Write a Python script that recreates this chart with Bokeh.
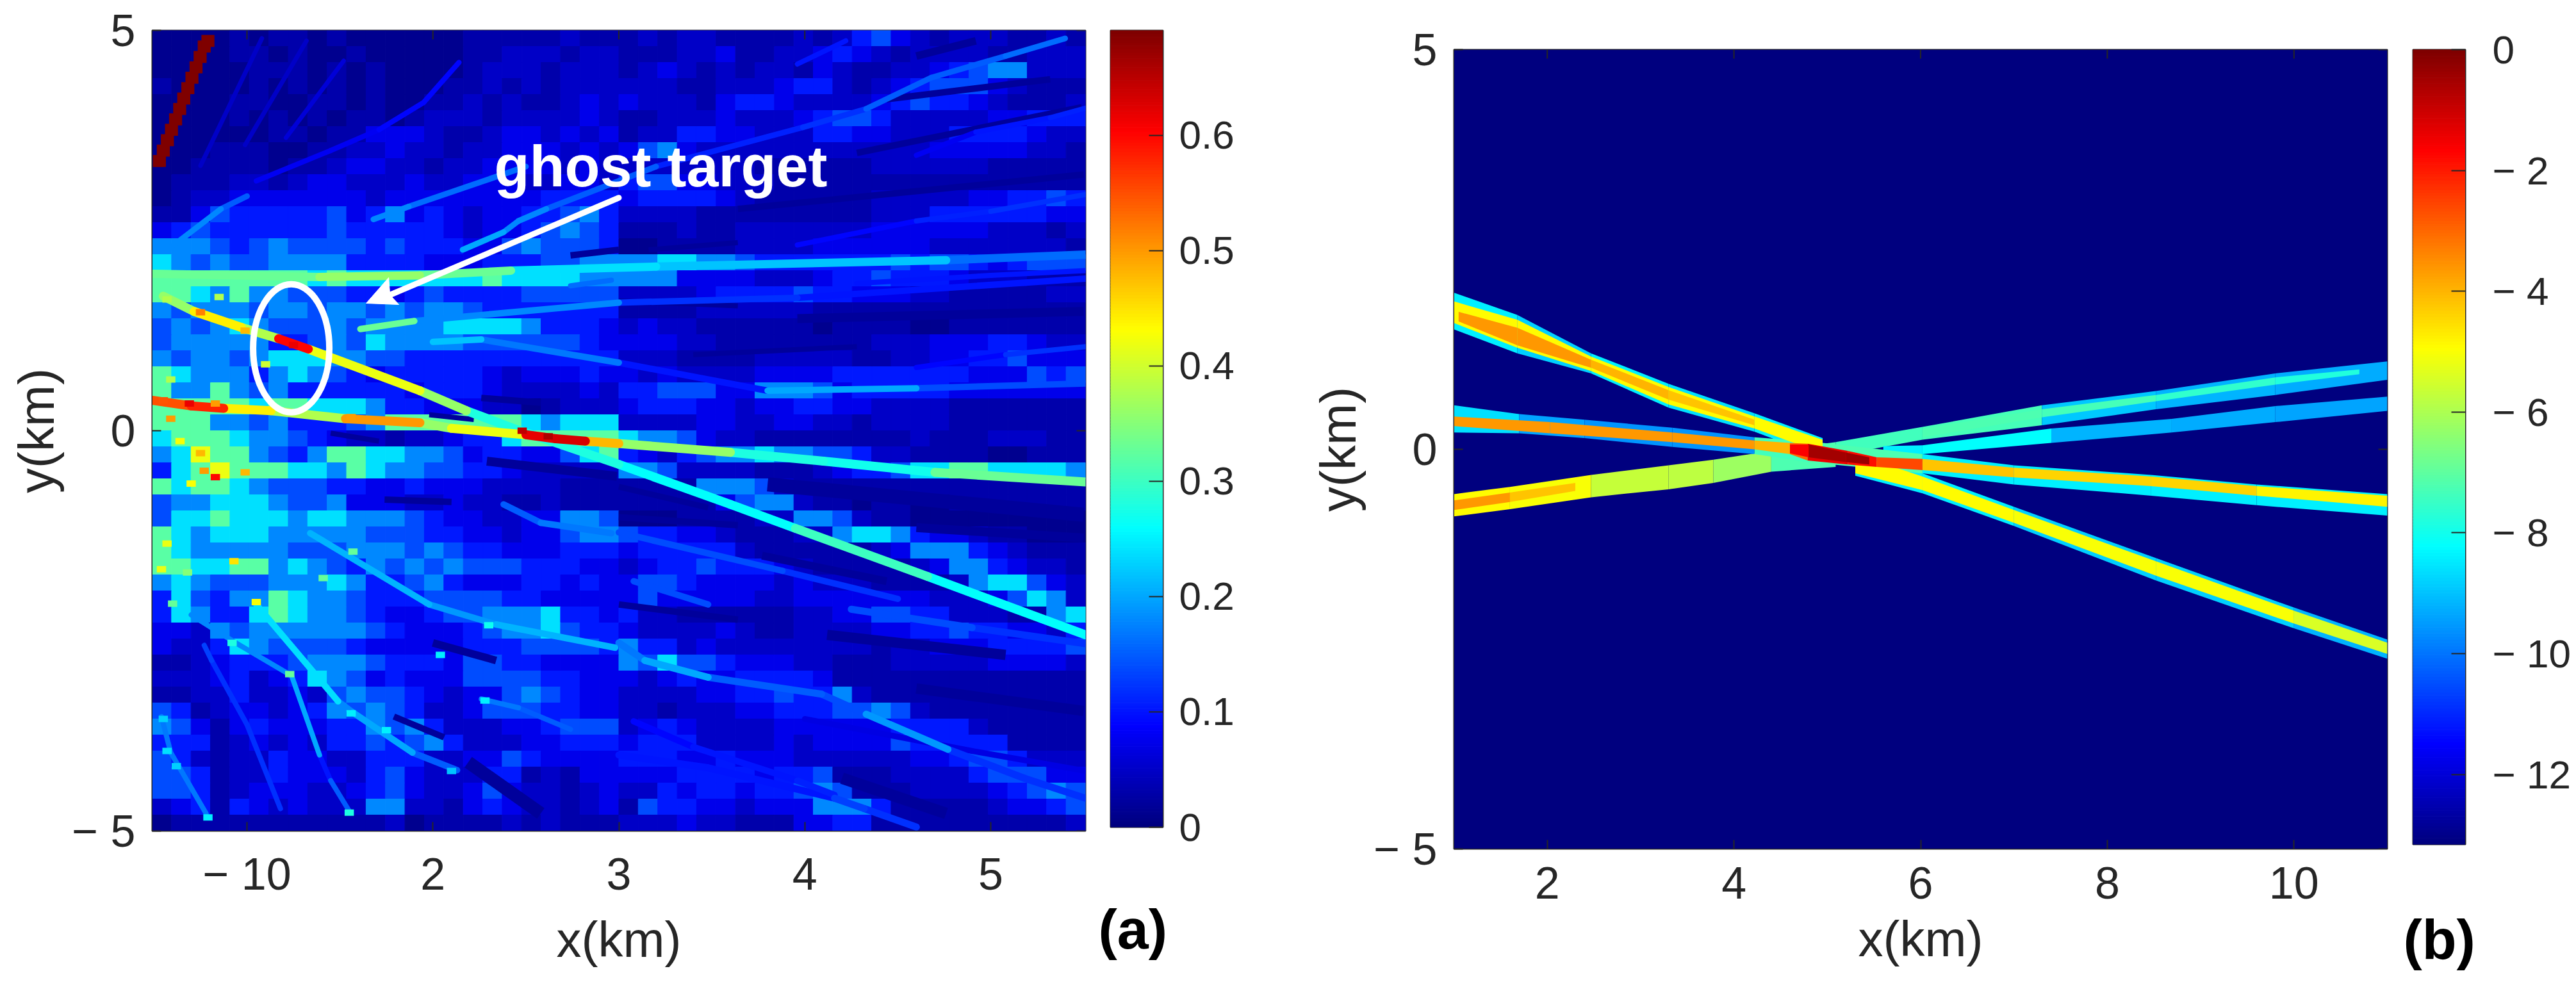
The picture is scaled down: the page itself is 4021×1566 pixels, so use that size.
from bokeh.plotting import figure
from bokeh.models import (ColumnDataSource, LinearColorMapper, FixedTicker)
from bokeh.core.properties import value
from bokeh.embed import file_html
from bokeh.resources import INLINE
import numpy as np

# ---------- colour scale limits and tick labels ----------
A_VMIN, A_VMAX = 0.0, 0.691
B_VMIN, B_VMAX = -13.16, 0.0
a_cb_ticks = [0, 0.1, 0.2, 0.3, 0.4, 0.5, 0.6]
a_cb_labels = ["0", "0.1", "0.2", "0.3", "0.4", "0.5", "0.6"]
b_cb_ticks = [0, -2, -4, -6, -8, -10, -12]
b_cb_labels = ["0", "\u2212 2", "\u2212 4", "\u2212 6", "\u2212 8", "\u2212 10", "\u2212 12"]
a_x_ticks = [1, 2, 3, 4, 5]
a_x_labels = ["\u2212 10", "2", "3", "4", "5"]
b_x_ticks = [2, 4, 6, 8, 10]
y_ticks = [-5, 0, 5]
y_labels = ["\u2212 5", "0", "5"]

# ---------- panel (a): estimated levels, coarse mosaic ----------
# one digit per block; digit_level turns the digit into a value on the colour bar
digit_level = [0.012, 0.03, 0.05, 0.075, 0.105, 0.14, 0.18, 0.24, 0.32, 0.42]
mosaic_left = [
    "000010110100000011111211", "000011010010000011222122", "000001110101000012221222", "100001010101000112121222",
    "000011001101001121211232", "000010101011012221222232", "000000110113332112332323", "000111001122322122333232",
    "001111011233221223333232", "011122123322232233322332", "012233333332333333334444", "113544444534634323344564",
    "345444444544444323345654", "666545655554544433565554", "765655666644443334445566", "888888887877777778777766",
    "887686655544345444455555", "656665665665656654444444", "565676555656666777764443", "566666445657666655555543",
    "656656777665544444444444", "876664676543444443233343", "866865644444434443222232", "888887887776443332201222",
    "888665644456888888876777",
    "788876654322122344788888", "679886546887766534433578", "478988877687665544322222", "878876555443343332222111",
    "566777655633322322112111", "577877767766654332233665", "876777666665554433233566", "876666655566656544333444",
    "887788676546565655544433", "676555666764456433344343", "475466876654445555443333", "476447876654334556667443",
    "332656666665433345667544", "322476555543333344455554", "112344456665444355443333", "222342347653433355554433",
    "112242232565543233565433", "541233234656542235554433", "653134333446564222334555", "444123232445456422233444",
    "542122433224442233543333", "554122433324532224412133", "554123332234532235322123", "234143232226622134322123",
    "011111111111201111212111",
]
mosaic_right = [
    "121221111212453212221121", "111223112234321222211222", "123212122132112234566222", "222112223442123455532111",
    "322213443222234544321112", "112223222345542222233444", "122443322244332224444322", "356322222222222233333221",
    "222222211111122222211111", "455332221111111111111111", "344443211111122222334454", "222211111111122244444433",
    "111211222222233333322212", "001111222233333322222221", "667766544444445455434555", "666333322234454443222111",
    "222234444544333221111122", "111122222211111111111111", "232211111101111001111111", "333221111111122233344322",
    "222111122222112233445333", "323222233334444444333545", "445553366653444443333333", "344433233443322221111111",
    "222233223322122221111111",
    "766532211111111211122211", "432456676655422111100111", "665222211123445778877776", "111166652111111111111111",
    "111113566211011001111111", "000111122665211000000000", "544332111226776433211000", "344444211111123666432111",
    "234454443211111236643221", "355433332322211112677532", "353333322333333322235762", "422111111223355442221167",
    "322223211222233445443324", "644232222222212233344445", "657554333221112222233332", "323433444431111111111111",
    "222233445446211111111111", "221222334445565211111111", "234322223333334444211111", "344422223233335444441111",
    "444334333222222334554222", "333444434451112222455533", "224344344565111222234565", "154433233366641111123345",
    "222322111334411111111112",
]

# ---------- panel (a): dark gaps between the streaks: x0, y0, x1, y1, width ----------
gap_x0 = [3.8, 3.0, 3.77, 4.6, 4.12, 4.6, 4.2, 3.0, 3.0, 4.6, 4.44, 4.28, 3.64, 3.16, 3.96, 3.0, 3.4, 2.26, 2.74, 1.98, 1.45, 2.29, 1.74, 2.19, 2.0, 1.79]
gap_y0 = [-0.67, -1.08, -1.56, -1.21, -2.55, -3.22, -4.34, -2.17, -0.7, 4.68, 4.14, 3.47, 2.77, 2.26, 1.4, 1.62, 0.95, 0.41, 2.19, 0.2, -0.03, -0.38, -0.86, -4.14, -2.65, -3.57]
gap_x1 = [5.5, 3.64, 4.44, 5.5, 5.08, 5.5, 4.76, 3.64, 3.48, 4.92, 5.32, 5.49, 5.5, 3.64, 5.5, 3.64, 4.28, 2.58, 3.0, 2.22, 1.71, 2.99, 2.1, 2.58, 2.34, 2.06]
gap_y1 = [-1.05, -1.18, -1.88, -1.34, -2.8, -3.5, -4.78, -2.36, -0.96, 4.87, 4.39, 4.04, 3.2, 2.35, 1.49, 1.56, 1.05, 0.35, 2.26, 0.14, -0.13, -0.57, -0.89, -4.78, -2.87, -3.83]
gap_w = [22, 10, 12, 14, 16, 16, 18, 10, 9, 12, 10, 10, 10, 8, 14, 8, 8, 10, 10, 8, 8, 14, 10, 20, 12, 10]
gap_level = 0.02

# ---------- panel (a): streaks, each a list of (x, y, level) ----------
ray_main_a = [(0.55, 1.68, 0.36), (0.715, 1.49, 0.44), (0.97, 1.29, 0.38), (1.17, 1.15, 0.6), (1.33, 1.02, 0.42), (1.93, 0.5, 0.36),
              (2.18, 0.25, 0.28), (2.42, 0.04, 0.28), (3.0, -0.42, 0.26), (3.6, -0.92, 0.26), (3.95, -1.22, 0.3), (4.66, -1.82, 0.26), (5.51, -2.55, 0.24)]
ray_main_b = [(0.49, 0.38, 0.55), (0.7, 0.31, 0.58), (0.875, 0.28, 0.44), (1.13, 0.25, 0.38), (1.53, 0.15, 0.5), (1.93, 0.1, 0.36), (2.1, 0.03, 0.42),
              (2.5, -0.05, 0.62), (2.66, -0.1, 0.63), (2.82, -0.13, 0.48), (3.0, -0.16, 0.36), (3.6, -0.27, 0.28), (4.1, -0.38, 0.27), (4.7, -0.52, 0.33), (5.51, -0.64, 0.28)]
ray_c = [(0.49, 1.96, 0.33), (1.39, 1.92, 0.36), (1.93, 1.94, 0.33), (2.42, 2.0, 0.24), (3.2, 2.05, 0.22), (4.76, 2.13, 0.16), (5.51, 2.2, 0.17)]
ray_ghost = [(1.61, 1.27, 0.33), (1.9, 1.37, 0.18), (3.0, 1.6, 0.12), (3.96, 1.66, 0.1), (5.51, 1.9, 0.09)]
ray_m1 = [(2.0, 1.11, 0.22), (2.26, 1.14, 0.17), (3.0, 0.85, 0.1), (3.8, 0.5, 0.2), (4.6, 0.53, 0.14), (5.51, 0.59, 0.15)]
ray_m2 = [(4.6, 0.79, 0.09), (5.08, 0.95, 0.12), (5.51, 1.05, 0.11)]
ray_m3 = [(4.28, 1.84, 0.1), (5.0, 1.94, 0.1), (5.51, 2.0, 0.08)]
ray_u0a = [(0.75, 3.31, 0.05), (1.08, 4.9, 0.05)]
ray_u0b = [(0.99, 3.57, 0.05), (1.32, 4.87, 0.05)]
ray_u0c = [(1.21, 3.66, 0.06), (1.52, 4.62, 0.05)]
ray_u1 = [(1.05, 3.12, 0.08), (1.45, 3.5, 0.08), (1.71, 3.76, 0.09), (1.95, 4.1, 0.09), (2.14, 4.6, 0.07)]
ray_u2 = [(0.59, 2.29, 0.18), (0.86, 2.77, 0.15), (1.0, 2.93, 0.1)]
ray_u3 = [(1.68, 2.64, 0.18), (1.87, 2.8, 0.16), (2.5, 3.3, 0.09)]
ray_u4 = [(2.16, 2.26, 0.2), (2.38, 2.48, 0.18), (2.46, 2.62, 0.18), (2.61, 2.77, 0.15), (3.2, 3.3, 0.11), (3.99, 3.79, 0.12), (4.33, 4.02, 0.15), (4.68, 4.41, 0.15), (5.08, 4.68, 0.16), (5.4, 4.9, 0.11)]
ray_u5 = [(3.96, 4.58, 0.1), (4.22, 4.87, 0.14)]
ray_u6 = [(4.6, 3.44, 0.08), (4.92, 3.73, 0.1), (5.32, 3.91, 0.11), (5.51, 4.03, 0.08)]
ray_u7 = [(3.96, 2.32, 0.09), (4.6, 2.62, 0.11), (5.0, 2.74, 0.12), (5.51, 2.95, 0.1)]
ray_d1 = [(3.0, -1.27, 0.14), (3.88, -1.75, 0.12), (4.5, -2.1, 0.07)]
ray_d2 = [(3.08, -1.88, 0.14), (3.48, -2.17, 0.09)]
ray_d3 = [(3.0, -2.65, 0.17), (3.14, -2.87, 0.2), (3.48, -3.08, 0.15), (4.09, -3.29, 0.14), (4.33, -3.54, 0.19), (4.77, -3.98, 0.12), (5.18, -4.34, 0.12), (5.51, -4.59, 0.14)]
ray_d4 = [(3.0, -4.05, 0.1), (3.48, -4.21, 0.1), (4.16, -4.59, 0.13), (4.32, -4.72, 0.12), (4.6, -4.95, 0.08)]
ray_d5 = [(3.08, -3.63, 0.09), (3.4, -3.95, 0.1), (3.96, -4.37, 0.11), (4.16, -4.55, 0.09)]
ray_d6 = [(4.25, -2.23, 0.14), (4.9, -2.46, 0.12), (5.51, -2.66, 0.14)]
ray_d7 = [(4.0, -3.6, 0.07), (4.9, -4.0, 0.07), (5.51, -4.25, 0.07)]
ray_l1 = [(0.7, -2.3, 0.18), (0.94, -2.65, 0.18), (1.24, -3.06, 0.2), (1.39, -4.05, 0.1), (1.45, -4.37, 0.15), (1.55, -4.75, 0.22)]
ray_l2 = [(0.54, -3.57, 0.17), (0.59, -4.02, 0.17), (0.78, -4.78, 0.22)]
ray_l3 = [(0.77, -2.68, 0.13), (0.81, -2.87, 0.12), (1.0, -3.67, 0.12), (1.18, -4.72, 0.1)]
ray_l4 = [(1.05, -2.17, 0.24), (1.49, -3.38, 0.18), (1.57, -3.52, 0.2), (1.89, -4.02, 0.15), (2.13, -4.24, 0.18)]
ray_l5 = [(1.34, -1.28, 0.21), (1.98, -2.17, 0.19), (2.34, -2.42, 0.21), (2.98, -2.71, 0.15)]
ray_l6 = [(2.26, -3.35, 0.17), (2.46, -3.46, 0.15), (2.74, -3.73, 0.12)]
ray_l7 = [(2.38, -0.92, 0.15), (2.58, -1.15, 0.17), (2.96, -1.28, 0.17)]
ray_x1 = [(2.74, 1.81, 0.16), (2.96, 1.88, 0.16)]
rays = [ray_u0a, ray_u0b, ray_u0c, ray_m2, ray_m3, ray_u1, ray_u2, ray_u3, ray_u4, ray_u5, ray_u6, ray_u7, ray_ghost, ray_m1, ray_d7, ray_d1, ray_d2, ray_d3, ray_d4, ray_d5, ray_d6,
        ray_l1, ray_l2, ray_l3, ray_l4, ray_l5, ray_l6, ray_l7, ray_x1, ray_c, ray_main_a, ray_main_b]
ray_widths = [7, 7, 7, 8, 8, 8, 9, 9, 9, 8, 8, 8, 10, 10, 9, 10, 10, 11, 11, 10, 11, 8, 8, 8, 10, 10, 8, 10, 8, 13, 14, 14]

# the saturated streak in the upper-left corner
red_x = [0.529, 0.55, 0.572, 0.594, 0.616, 0.638, 0.66, 0.682, 0.704, 0.726, 0.748, 0.77, 0.79]
red_y = [3.37, 3.5, 3.63, 3.76, 3.89, 4.02, 4.15, 4.28, 4.41, 4.54, 4.67, 4.8, 4.87]
red_level = 0.691

# single bright clumps of panel (a)
spot_x = [0.55, 0.69, 0.83, 0.59, 0.64, 0.75, 0.77, 0.83, 0.99, 0.7, 1.25, 0.99, 0.75, 0.57, 0.85, 0.59, 1.1, 1.56, 2.48, 2.62,
          0.57, 0.93, 0.54, 0.68, 1.05, 0.6, 1.41, 1.57, 1.23, 0.92, 1.55, 1.56, 1.75, 2.04, 2.28, 2.3, 2.1, 0.55, 0.57, 0.79, 0.62]
spot_y = [0.38, 0.34, 0.34, 0.15, -0.13, -0.28, -0.5, -0.58, -0.52, -0.66, 1.07, 1.25, 1.48, 1.64, 1.67, 0.64, 0.83, 0.17, 0.0, -0.07,
          -1.41, -1.63, -1.73, -1.77, -2.14, -2.16, -1.84, -1.51, -3.04, -2.65, -4.77, -3.53, -3.74, -2.8, -3.37, -2.43, -4.25, -3.6, -4.0, -4.83, -4.19]
spot_v = [0.55, 0.62, 0.5, 0.5, 0.43, 0.48, 0.5, 0.6, 0.48, 0.43, 0.62, 0.48, 0.52, 0.38, 0.38, 0.38, 0.4, 0.5, 0.65, 0.66,
          0.42, 0.45, 0.42, 0.35, 0.43, 0.33, 0.33, 0.33, 0.33, 0.28, 0.28, 0.25, 0.25, 0.25, 0.25, 0.27, 0.22, 0.23, 0.24, 0.25, 0.23]

# annotation of panel (a)
ellipse_x, ellipse_y, ellipse_w, ellipse_h = 1.238, 1.03, 0.41, 1.6
arrow_line_x = [3.0, 1.769]
arrow_line_y = [2.91, 1.696]
arrow_head_x = [1.641, 1.762, 1.769, 1.817]
arrow_head_y = [1.592, 1.912, 1.696, 1.576]
ghost_text = "ghost target"
ghost_xy = (2.33, 3.3)

# ---------- panel (b): band layers, stations (x, y_top, y_bottom, level) ----------
b1_edge = [(1.0, 1.96, 1.5, -8.4), (1.68, 1.68, 1.2, -8.8), (2.47, 1.2, 0.95, -8.4), (3.3, 0.82, 0.52, -8.6), (4.22, 0.45, 0.22, -8.4), (4.95, 0.14, -0.1, -8.2)]
b1_body = [(1.0, 1.85, 1.58, -4.9), (1.68, 1.62, 1.27, -4.9), (2.47, 1.16, 0.98, -4.9), (3.3, 0.78, 0.56, -4.9), (4.22, 0.41, 0.26, -4.9), (4.95, 0.12, -0.05, -5.0)]
b1_core = [(1.05, 1.72, 1.6, -3.6), (1.68, 1.52, 1.3, -3.6), (2.47, 1.12, 1.02, -4.0), (3.3, 0.74, 0.62, -4.2), (4.22, 0.37, 0.3, -4.4)]
b1r_edge = [(5.3, -0.02, -0.33, -8.4), (6.02, -0.3, -0.55, -8.4), (7.0, -0.72, -0.96, -8.8), (8.52, -1.36, -1.64, -8.8), (10.0, -1.98, -2.24, -9.2), (11.0, -2.38, -2.62, -9.4)]
b1r_body = [(5.3, -0.06, -0.3, -4.9), (6.02, -0.34, -0.51, -4.9), (7.0, -0.76, -0.92, -5.0), (8.52, -1.4, -1.58, -5.0), (10.0, -2.02, -2.18, -5.4), (11.0, -2.42, -2.56, -5.7)]
b2_edge = [(1.0, 0.55, 0.21, -8.6), (1.7, 0.44, 0.2, -9.4), (2.4, 0.37, 0.14, -9.6), (3.34, 0.27, 0.03, -9.6), (4.22, 0.15, -0.06, -7.4), (4.8, 0.1, -0.16, -7.2),
           (6.02, -0.06, -0.3, -8.4), (7.0, -0.2, -0.44, -8.4), (8.47, -0.32, -0.58, -8.4), (9.6, -0.44, -0.7, -8.4), (11.0, -0.56, -0.83, -8.6)]
b2_body = [(1.0, 0.41, 0.29, -3.6), (2.03, 0.34, 0.2, -3.6), (3.34, 0.21, 0.09, -3.6), (4.22, 0.11, 0.0, -4.0), (4.6, 0.08, -0.06, -3.0), (4.79, 0.07, -0.14, -1.4),
           (5.22, -0.02, -0.19, -1.8), (5.53, -0.1, -0.22, -2.6), (6.02, -0.12, -0.26, -4.2), (7.0, -0.23, -0.35, -4.4), (8.47, -0.34, -0.46, -4.4), (9.6, -0.46, -0.58, -4.8), (11.0, -0.58, -0.72, -5.0)]
b2_red = [(4.6, 0.06, -0.05, -1.6), (4.8, 0.06, -0.1, -0.5), (5.2, -0.04, -0.16, -0.4), (5.45, -0.1, -0.19, -1.4)]
b3_lower = [(1.0, -0.56, -0.84, -4.9), (1.6, -0.47, -0.75, -5.0), (2.47, -0.32, -0.6, -5.7), (3.3, -0.2, -0.5, -5.8), (3.78, -0.13, -0.42, -6.2), (4.4, -0.02, -0.28, -7.2), (5.09, 0.09, -0.22, -7.4)]
b3_core = [(1.0, -0.64, -0.76, -3.6), (1.6, -0.54, -0.66, -4.2), (2.3, -0.42, -0.52, -4.9)]
b3_up = [(5.09, 0.09, -0.08, -7.4), (6.02, 0.28, 0.12, -7.3), (7.3, 0.55, 0.3, -8.9), (8.52, 0.73, 0.5, -9.2), (9.8, 0.95, 0.68, -9.3), (11.0, 1.1, 0.87, -9.4)]
b3_up_core = [(6.02, 0.26, 0.15, -7.2), (7.3, 0.5, 0.4, -7.3), (8.52, 0.68, 0.6, -7.6), (9.8, 0.9, 0.81, -7.8), (10.7, 1.0, 0.94, -7.9)]
b3_low = [(5.6, 0.04, -0.08, -8.4), (6.02, 0.05, -0.06, -8.2), (7.4, 0.26, 0.08, -9.2), (8.69, 0.38, 0.21, -9.3), (9.8, 0.54, 0.34, -9.4), (11.0, 0.66, 0.48, -9.4)]
b_layers = [b3_lower, b3_up, b3_low, b3_up_core, b1_edge, b1r_edge, b2_edge, b3_core, b1_body, b1r_body, b2_body, b1_core, b2_red]


def jet(n=256):
    out = []
    for t in np.linspace(0, 1, n):
        r = np.clip(min(4 * t - 1.5, -4 * t + 4.5), 0, 1)
        g = np.clip(min(4 * t - 0.5, -4 * t + 3.5), 0, 1)
        b = np.clip(min(4 * t + 0.5, -4 * t + 2.5), 0, 1)
        out.append("#%02x%02x%02x" % (int(r * 255), int(g * 255), int(b * 255)))
    return out


PAL = jet()
INK = "#262626"
FONT = "Liberation Sans"
TICK_PX = "70px"
LABEL_PX = "78px"
CB_PX = "62px"
map_a = LinearColorMapper(palette=PAL, low=A_VMIN, high=A_VMAX)
map_b = LinearColorMapper(palette=PAL, low=B_VMIN, high=B_VMAX)


def place(fig, left, top=0):
    fig.styles = {"position": "absolute", "left": f"{left}px", "top": f"{top}px"}
    return fig


def base(width, left, right, top, bottom, xr, yr, xt, yt, xover, yover, xlabel, ylabel):
    p = figure(width=width, height=1566, x_range=xr, y_range=yr, output_backend="svg", toolbar_location=None,
               min_border_left=left, min_border_right=right, min_border_top=top, min_border_bottom=bottom,
               background_fill_color=None, border_fill_color=None, outline_line_color=INK, outline_line_width=2)
    p.grid.visible = False
    p.xaxis.ticker = FixedTicker(ticks=xt)
    p.yaxis.ticker = FixedTicker(ticks=yt)
    p.xaxis.major_label_overrides = xover
    p.yaxis.major_label_overrides = yover
    p.xaxis.axis_label = xlabel
    p.yaxis.axis_label = ylabel
    for ax in [p.xaxis[0], p.yaxis[0]]:
        ax.axis_line_color = INK
        ax.major_tick_line_color = INK
        ax.major_tick_line_width = 2
        ax.major_tick_in = 14
        ax.major_tick_out = 0
        ax.minor_tick_line_color = None
        ax.major_label_text_font = FONT
        ax.major_label_text_font_size = TICK_PX
        ax.major_label_text_color = INK
        ax.axis_label_text_font = FONT
        ax.axis_label_text_font_size = LABEL_PX
        ax.axis_label_text_font_style = "normal"
        ax.axis_label_text_color = INK
    p.xaxis.major_label_standoff = 28
    p.yaxis.major_label_standoff = 26
    p.xaxis.axis_label_standoff = 16
    p.yaxis.axis_label_standoff = 8
    return p


def mirror_ticks(p, xt, yt, dx, dy):
    """tick marks on the top and right edges, as in the reference's box"""
    x1 = p.x_range.end
    y1 = p.y_range.end
    p.segment(xt, [y1] * len(xt), xt, [y1 - dy] * len(xt), line_color=INK, line_width=2)
    p.segment([x1] * len(yt), yt, [x1 - dx] * len(yt), yt, line_color=INK, line_width=2)


def colorbar(width, left, right, top, bottom, low, high, ticks, labels, standoff):
    c = figure(width=width, height=1566, x_range=(0, 1), y_range=(low, high), output_backend="svg", toolbar_location=None,
               y_axis_location="right", min_border_left=left, min_border_right=right, min_border_top=top, min_border_bottom=bottom,
               background_fill_color=None, border_fill_color=None, outline_line_color=INK, outline_line_width=2)
    c.grid.visible = False
    c.xaxis.visible = False
    edges = np.linspace(low, high, 257)
    c.quad(left=0, right=1, bottom=edges[:-1], top=edges[1:], fill_color=PAL, line_color=PAL, line_width=1)
    ax = c.yaxis[0]
    ax.ticker = FixedTicker(ticks=ticks)
    ax.major_label_overrides = dict(zip(ticks, labels))
    ax.major_tick_in = 22
    ax.major_tick_out = 0
    ax.major_tick_line_color = INK
    ax.major_tick_line_width = 2
    ax.minor_tick_line_color = None
    ax.axis_line_color = INK
    ax.major_label_standoff = standoff
    ax.major_label_text_font = FONT
    ax.major_label_text_font_size = CB_PX
    ax.major_label_text_color = INK
    return c


def panel_tag(text):
    t = figure(width=150, height=160, x_range=(0, 1), y_range=(0, 1), output_backend="svg", toolbar_location=None,
               min_border=0, background_fill_color=None, border_fill_color=None, outline_line_color=None,
               x_axis_type=None, y_axis_type=None)
    t.grid.visible = False
    t.text([0.0], [0.5], text=[text], text_font=value(FONT), text_font_size="88px", text_font_style="bold",
           text_color="black", text_baseline="middle", text_align="left")
    return t


# ---------- panel (a) ----------
pa = place(base(1700, 237, 6, 47, 269, (0.49, 5.51), (-5, 5), a_x_ticks, y_ticks,
                dict(zip(a_x_ticks, a_x_labels)), dict(zip(y_ticks, y_labels)), "x(km)", "y(km)"), 0)
rows = [l + r for l, r in zip(mosaic_left, mosaic_right)]
nrow, ncol = len(rows), max(len(r) for r in rows)
dx, dy = (5.51 - 0.49) / ncol, 10.0 / nrow
cells = dict(left=[], right=[], top=[], bottom=[], v=[])
for i, text in enumerate(rows):
    for j, digit in enumerate(text):
        cells["left"].append(0.49 + j * dx)
        cells["right"].append(0.49 + (j + 1) * dx)
        cells["top"].append(5 - i * dy)
        cells["bottom"].append(5 - (i + 1) * dy)
        cells["v"].append(digit_level[int(digit)])
pa.quad("left", "right", "top", "bottom", source=ColumnDataSource(cells), fill_color={"field": "v", "transform": map_a},
        line_color={"field": "v", "transform": map_a}, line_width=1)


def ray_source(lines, widths):
    d = dict(x0=[], y0=[], x1=[], y1=[], v=[], w=[])
    for pts, w in zip(lines, widths):
        for a, b in zip(pts[:-1], pts[1:]):
            d["x0"].append(a[0]); d["y0"].append(a[1]); d["x1"].append(b[0]); d["y1"].append(b[1])
            d["v"].append(a[2]); d["w"].append(w)
    order = np.argsort(d["v"], kind="stable")
    return ColumnDataSource({k: [d[k][i] for i in order] for k in d})


pa.segment(gap_x0, gap_y0, gap_x1, gap_y1, line_color=PAL[int(gap_level / A_VMAX * 255)], line_width=gap_w)
pa.segment("x0", "y0", "x1", "y1", source=ray_source(rays, ray_widths), line_color={"field": "v", "transform": map_a}, line_width="w", line_cap="round")
order = np.argsort(spot_v)
pa.rect([spot_x[i] for i in order], [spot_y[i] for i in order], width=0.05, height=0.08,
        fill_color=[PAL[int(spot_v[i] / A_VMAX * 255)] for i in order], line_color=None)
pa.rect(red_x, red_y, width=0.07, height=0.15, fill_color=PAL[int(red_level / A_VMAX * 255)], line_color=None)
pa.ellipse([ellipse_x], [ellipse_y], width=ellipse_w, height=ellipse_h, fill_color=None, line_color="white", line_width=10)
pa.line(arrow_line_x, arrow_line_y, line_color="white", line_width=9, line_cap="round")
pa.patch(arrow_head_x, arrow_head_y, fill_color="white", line_color="white", line_width=1)
pa.text([ghost_xy[0]], [ghost_xy[1]], text=[ghost_text], text_font=value(FONT), text_font_size="90px", text_font_style="bold",
        text_color="white", text_baseline="middle", text_align="left")
mirror_ticks(pa, a_x_ticks, y_ticks, 0.048, 0.112)

# ---------- colour bar (a) ----------
ca = place(colorbar(298, 33, 183, 47, 275, A_VMIN, A_VMAX, a_cb_ticks, a_cb_labels, 25), 1700)
tag_a = place(panel_tag("(a)"), 1714, 1370)

# ---------- panel (b) ----------
pb = place(base(1734, 271, 6, 77, 241, (1, 11), (-5, 5), b_x_ticks, y_ticks,
                {t: str(t) for t in b_x_ticks}, dict(zip(y_ticks, y_labels)), "x(km)", "y(km)"), 1998)
pb.patch([1, 11, 11, 1], [-5, -5, 5, 5], fill_color=PAL[0], line_color=None)
bx, by, bv = [], [], []
for layer in b_layers:
    for a, b in zip(layer[:-1], layer[1:]):
        bx.append([a[0], b[0], b[0], a[0]])
        by.append([a[1], b[1], b[2], a[2]])
        bv.append(a[3])
pb.patches("xs", "ys", source=ColumnDataSource(dict(xs=bx, ys=by, v=bv)), fill_color={"field": "v", "transform": map_b}, line_color=None)
mirror_ticks(pb, b_x_ticks, y_ticks, 0.096, 0.112)

# ---------- colour bar (b) ----------
cb = place(colorbar(289, 34, 173, 77, 248, B_VMIN, B_VMAX, b_cb_ticks, b_cb_labels, 42), 3732)
tag_b = place(panel_tag("(b)"), 3751, 1386)

open("out.html", "w").write(file_html([pa, ca, pb, cb, tag_a, tag_b], INLINE))
